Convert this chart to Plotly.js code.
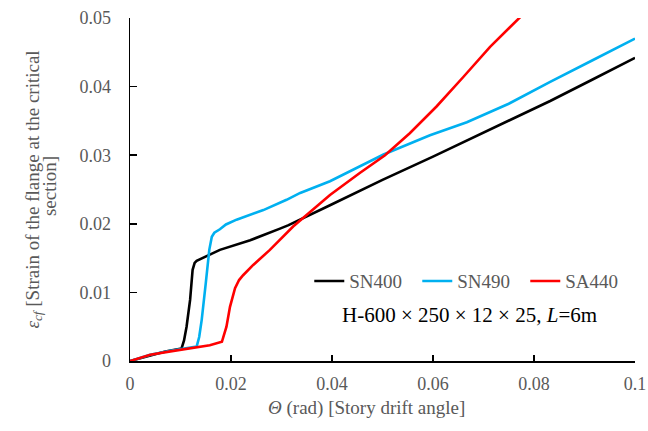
<!DOCTYPE html>
<html>
<head>
<meta charset="utf-8">
<script src="https://cdn.plot.ly/plotly-3.0.1.min.js"></script>
<style>html,body{margin:0;padding:0;background:#fff;}#chart{width:648px;height:431px;}</style>
</head>
<body>
<div id="chart"></div>
<script>
// Series names
const seriesNames = ["SN400", "SN490", "SA440"];
const seriesColors = ["#000000", "#00B0F0", "#FF0000"];

// SN400
const sn400X = [0, 0.002, 0.004, 0.007, 0.0102, 0.0107, 0.0112, 0.0119, 0.0124, 0.0128, 0.0132, 0.0145, 0.0158, 0.0178, 0.0238, 0.0297, 0.0314, 0.0396, 0.05, 0.06, 0.0654, 0.0733, 0.0792, 0.0832, 0.0915, 0.1];
const sn400Y = [0, 0.0004, 0.0009, 0.0014, 0.0018, 0.003, 0.005, 0.0089, 0.0133, 0.0143, 0.0146, 0.0151, 0.0155, 0.0162, 0.0176, 0.0193, 0.0198, 0.0227, 0.0264, 0.0298, 0.0317, 0.0345, 0.0366, 0.0379, 0.041, 0.0442];

// SN490
const sn490X = [0, 0.002, 0.004, 0.008, 0.0132, 0.0137, 0.0142, 0.015, 0.0157, 0.0162, 0.0167, 0.0178, 0.019, 0.0211, 0.0264, 0.031, 0.0337, 0.0396, 0.0502, 0.0594, 0.0667, 0.075, 0.0792, 0.0832, 0.0915, 0.1];
const sn490Y = [0, 0.0004, 0.0009, 0.0015, 0.0021, 0.0035, 0.006, 0.0113, 0.0162, 0.0181, 0.0187, 0.0192, 0.0199, 0.0206, 0.022, 0.0235, 0.0245, 0.0262, 0.0301, 0.0329, 0.0348, 0.0375, 0.0392, 0.0407, 0.0438, 0.047];

// SA440
const sa440X = [0, 0.002, 0.004, 0.008, 0.012, 0.0158, 0.0182, 0.0191, 0.0198, 0.0208, 0.0216, 0.0224, 0.0244, 0.0277, 0.0323, 0.0376, 0.0396, 0.0455, 0.0505, 0.0554, 0.0607, 0.066, 0.0713, 0.0775];
const sa440Y = [0, 0.0005, 0.0009, 0.0014, 0.0019, 0.0023, 0.0028, 0.005, 0.0079, 0.0106, 0.0118, 0.0125, 0.014, 0.0162, 0.0196, 0.023, 0.0242, 0.0274, 0.03, 0.0332, 0.0371, 0.0414, 0.0458, 0.0503];

// Ticks
const xTickVals = [0, 0.02, 0.04, 0.06, 0.08, 0.1];
const xTickText = ["0", "0.02", "0.04", "0.06", "0.08", "0.1"];
const yTickVals = [0, 0.01, 0.02, 0.03, 0.04, 0.05];
const yTickText = ["0", "0.01", "0.02", "0.03", "0.04", "0.05"];

const FONT = '"Liberation Serif", "DejaVu Serif", serif';
const GRAY = "#595959";

const xs = [sn400X, sn490X, sa440X];
const ys = [sn400Y, sn490Y, sa440Y];
const traces = seriesNames.map((n, i) => ({
  x: xs[i], y: ys[i], type: "scatter", mode: "lines", name: n,
  line: {color: seriesColors[i], width: 2.6, shape: "linear"}
}));

const layout = {
  width: 648, height: 431,
  margin: {l: 130, r: 13, t: 18, b: 70},
  paper_bgcolor: "#fff", plot_bgcolor: "#fff",
  font: {family: FONT, size: 18, color: GRAY},
  showlegend: true,
  legend: {
    orientation: "h", x: 0.355, y: 0.233, xanchor: "left", yanchor: "middle",
    font: {family: FONT, size: 19, color: GRAY},
    bgcolor: "rgba(0,0,0,0)", itemwidth: 30,
    entrywidth: 63, entrywidthmode: "pixels"
  },
  xaxis: {
    range: [0, 0.1], tickvals: xTickVals, ticktext: xTickText,
    showgrid: false, zeroline: false, showline: true, linecolor: "#000", linewidth: 1.5,
    ticks: "inside", ticklen: 6, tickwidth: 1.5, tickcolor: "#000",
    tickfont: {family: FONT, size: 18, color: GRAY},
    ticklabelstandoff: 6
  },
  yaxis: {
    range: [0, 0.05], tickvals: yTickVals, ticktext: yTickText,
    showgrid: false, zeroline: false, showline: true, linecolor: "#000", linewidth: 1.5,
    ticks: "inside", ticklen: 7, tickwidth: 1.5, tickcolor: "#000",
    tickfont: {family: FONT, size: 18, color: GRAY},
    ticklabelstandoff: 14,
    title: {text: "<i>ε<sub>cf</sub></i> [Strain of the flange at the critical", font: {family: FONT, size: 19, color: GRAY}, standoff: 35}
  },
  annotations: [{
    text: "<i>Θ</i> (rad) [Story drift angle]",
    xref: "paper", yref: "paper", x: 0.469, y: -0.137, xanchor: "center", yanchor: "middle",
    showarrow: false, font: {family: FONT, size: 19, color: GRAY}
  }, {
    text: "section]",
    xref: "paper", yref: "paper", x: -0.1604, y: 0.51, xanchor: "center", yanchor: "middle",
    textangle: -90, showarrow: false, font: {family: FONT, size: 19, color: GRAY}
  }, {
    text: "H-600 × 250 × 12 × 25, <i>L</i>=6m",
    xref: "paper", yref: "paper", x: 0.673, y: 0.134, xanchor: "center", yanchor: "middle",
    showarrow: false, font: {family: FONT, size: 21, color: "#000"}
  }]
};

Plotly.newPlot("chart", traces, layout, {displayModeBar: false, staticPlot: true});
</script>
</body>
</html>
